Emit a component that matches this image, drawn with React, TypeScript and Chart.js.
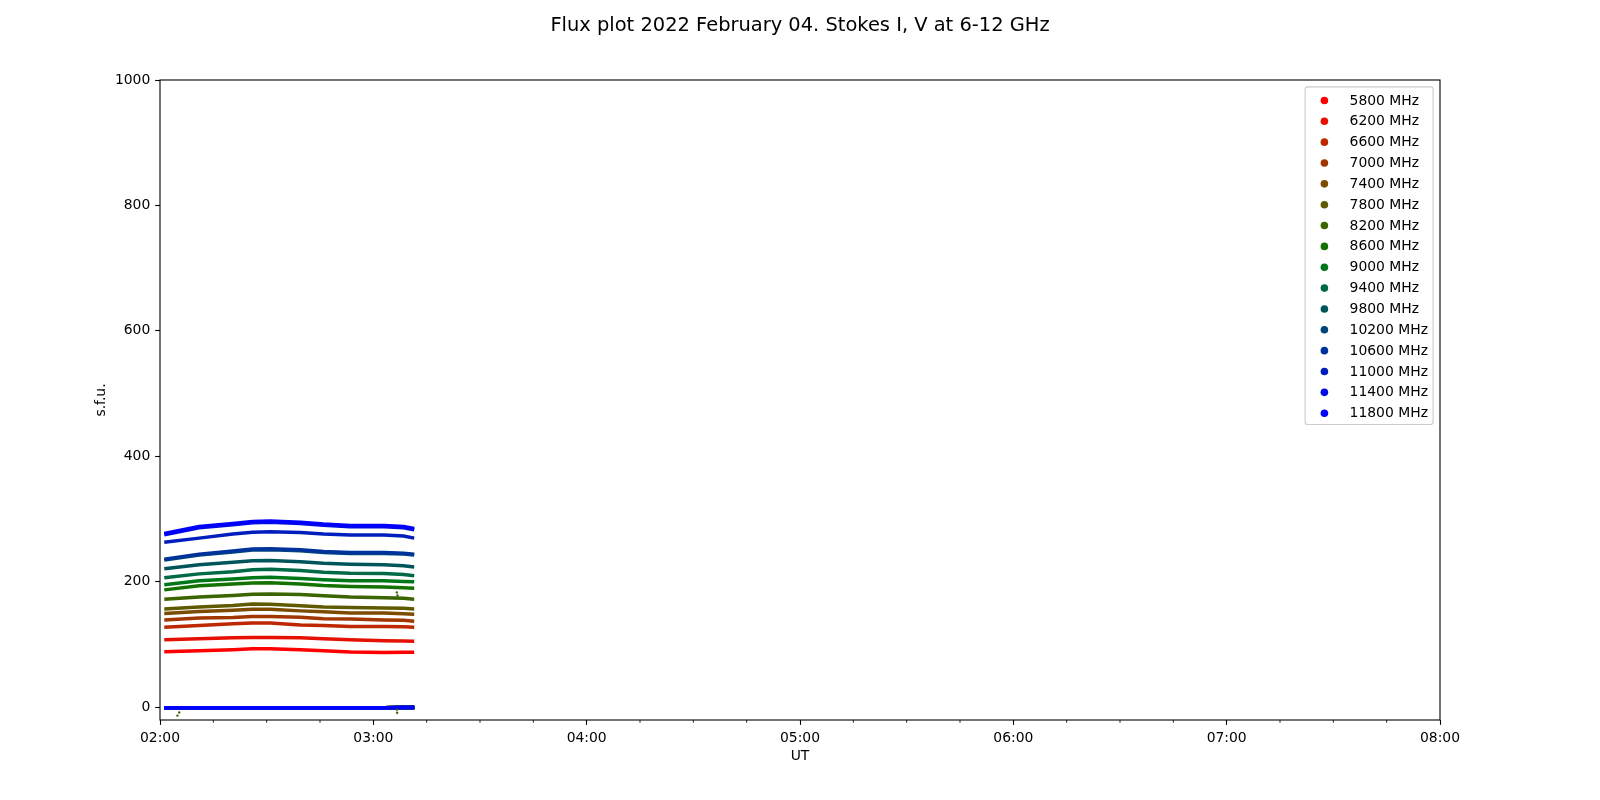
import { useEffect, useRef } from 'react';
import { Chart, registerables } from 'chart.js';

Chart.register(...registerables);

const FONT = "'DejaVu Sans', sans-serif";

const titleText = 'Flux plot 2022 February 04. Stokes I, V at 6-12 GHz';
const yAxisTitle = 's.f.u.';
const xAxisTitle = 'UT';

// x ticks (minutes of the day)
const xTickMinutes = [120, 180, 240, 300, 360, 420, 480];
const xTickLabels = ['02:00', '03:00', '04:00', '05:00', '06:00', '07:00', '08:00'];
const yTickValues = [0, 200, 400, 600, 800, 1000];

const frequencyLabels = [
  '5800 MHz', '6200 MHz', '6600 MHz', '7000 MHz', '7400 MHz', '7800 MHz', '8200 MHz', '8600 MHz',
  '9000 MHz', '9400 MHz', '9800 MHz', '10200 MHz', '10600 MHz', '11000 MHz', '11400 MHz', '11800 MHz',
];

const seriesColors = [
  '#ff0000', '#e61000', '#be2800', '#a03700', '#7d4b00', '#5f5a00', '#3c6400', '#147300',
  '#007819', '#006946', '#00555a', '#00467d', '#00329b', '#001ebe', '#000ce1', '#0000ff',
];

// sample times (minutes of the day, UT)
const timeMinutes = [121.2, 131, 140.5, 146, 151, 159.5, 166, 173.5, 183, 188.5, 191.5];

// Stokes I flux (s.f.u.)
const flux5800 = [88.5, 90, 91.5, 93, 93, 91.5, 90, 88, 87, 87.5, 87.5];
const flux6200 = [107.5, 109, 110.5, 111, 111, 110.5, 109, 107.5, 106, 105.5, 105];
const flux6600 = [127.5, 130, 133, 134, 134, 131, 130, 128.5, 128.5, 128, 127.5];
const flux7000 = [139, 142, 143, 144.5, 144.5, 143.5, 141, 140.5, 139, 138.5, 137];
const flux7400 = [149.5, 152.5, 154.5, 156, 156, 153.5, 152, 150, 150, 149, 148];
const flux7800 = [156.5, 159.5, 162, 164.5, 164, 161.5, 159.5, 159, 158, 157.5, 156.5];
const flux8200 = [172, 175.5, 178, 180, 180.5, 179.5, 177.5, 175.5, 174.5, 173.5, 172];
const flux8600 = [187, 193.5, 196.5, 198, 198.5, 196.5, 194, 192.5, 191.5, 190.5, 189.5];
const flux9000 = [195, 201.5, 204.5, 206.5, 207, 205, 203, 201.5, 201.5, 200.5, 200];
const flux9400 = [206.5, 212.5, 216, 219, 220, 218, 215, 213.5, 213, 211.5, 209.5];
const flux9800 = [220.5, 227, 231, 233.5, 234, 232, 229.5, 228, 227, 225.5, 223.5];
const flux10200 = [234.5, 242.5, 247.5, 250.5, 251, 249.5, 246.5, 245, 245, 244, 242.5];
const flux10600 = [236, 244, 249, 252, 252.5, 251, 248, 246.5, 246.5, 245.5, 244];
const flux11000 = [263, 269.5, 276, 279, 279.5, 278.5, 276, 274.5, 274.5, 273, 269.5];
const flux11400 = [275, 286, 291, 294, 295, 293, 290, 287.5, 287.5, 286, 283];
const flux11800 = [277, 288, 293, 296, 297, 295, 292, 289.5, 289.5, 288, 285];

// Stokes V (s.f.u.), all channels lie on top of each other near zero
const stokesVCommon = [-1, -1, -1, -1, -1, -1, -1, -1, -1, -0.5, -0.5];

// stray samples (8200 MHz channel)
const strayMinutes = [124.9, 125.4, 186.6, 186.7, 186.8, 186.6];
const strayValues = [-13.5, -8.5, -4, -9, 178, 183];

const fluxSeries = [
  flux5800, flux6200, flux6600, flux7000, flux7400, flux7800, flux8200, flux8600,
  flux9000, flux9400, flux9800, flux10200, flux10600, flux11000, flux11400, flux11800,
];

const decorPlugin = {
  id: 'decor',
  afterDraw(chart: any) {
    const ctx = chart.ctx as CanvasRenderingContext2D;
    const { left, right, top, bottom } = chart.chartArea;
    const xs = chart.scales.x;
    ctx.save();
    // frame
    ctx.strokeStyle = '#000';
    ctx.lineWidth = 1.1;
    ctx.strokeRect(left, top, right - left, bottom - top);
    // minor ticks every 15 minutes
    ctx.lineWidth = 0.85;
    for (let m = 135; m < 480; m += 15) {
      if (m % 60 === 0) continue;
      const px = xs.getPixelForValue(m);
      ctx.beginPath();
      ctx.moveTo(px, bottom);
      ctx.lineTo(px, bottom + 2.8);
      ctx.stroke();
    }
    // title
    ctx.fillStyle = '#000';
    ctx.font = `19.44px ${FONT}`;
    ctx.textAlign = 'center';
    ctx.textBaseline = 'alphabetic';
    ctx.fillText(titleText, 800, 30.5);
    // legend
    const lx = 1305.1, ly = 86.9, lw = 128, lh = 337.6;
    ctx.beginPath();
    (ctx as any).roundRect(lx, ly, lw, lh, 2.8);
    ctx.fillStyle = 'rgba(255,255,255,0.8)';
    ctx.fill();
    ctx.strokeStyle = '#cccccc';
    ctx.lineWidth = 1.1;
    ctx.stroke();
    ctx.font = `13.9px ${FONT}`;
    ctx.textAlign = 'left';
    frequencyLabels.forEach((label, i) => {
      const cy = 99.45 + i * 20.85;
      ctx.beginPath();
      ctx.arc(1324.4, cy + 1, 3.8, 0, Math.PI * 2);
      ctx.fillStyle = seriesColors[i];
      ctx.fill();
      ctx.fillStyle = '#000';
      ctx.fillText(label, 1349.6, cy + 5.07);
    });
    ctx.restore();
  },
};

export default function App() {
  const canvasRef = useRef<HTMLCanvasElement | null>(null);

  useEffect(() => {
    const canvas = canvasRef.current;
    if (!canvas) return;
    const datasets: any[] = [];
    frequencyLabels.forEach((label, i) => {
      datasets.push({
        label,
        data: timeMinutes.map((t, k) => ({ x: t, y: fluxSeries[i][k] })),
        borderColor: seriesColors[i],
        backgroundColor: seriesColors[i],
        borderWidth: 3.5,
        pointRadius: 0,
        showLine: true,
        order: 200 - 2 * i,
      });
      datasets.push({
        label: label + ' V',
        data: timeMinutes.map((t, k) => ({ x: t, y: stokesVCommon[k] })),
        borderColor: seriesColors[i],
        backgroundColor: seriesColors[i],
        borderWidth: 3.6,
        pointRadius: 0,
        showLine: true,
        order: 199 - 2 * i,
      });
    });
    datasets.push({
      label: 'stray',
      data: strayMinutes.map((t, k) => ({ x: t, y: strayValues[k] })),
      borderColor: seriesColors[6],
      backgroundColor: seriesColors[6],
      pointRadius: 1.2,
      pointBorderWidth: 0,
      showLine: false,
      order: 0,
    });

    const tickFont = { family: FONT, size: 13.9 };
    const chart = new Chart(canvas, {
      type: 'scatter',
      data: { datasets },
      plugins: [decorPlugin],
      options: {
        animation: false,
        responsive: false,
        devicePixelRatio: 1,
        layout: { padding: { left: 0, right: 160, top: 80, bottom: 0 } },
        plugins: {
          legend: { display: false },
          tooltip: { enabled: false },
          title: { display: false },
        },
        scales: {
          x: {
            type: 'linear',
            min: 120,
            max: 480,
            afterFit: (s: any) => { s.height = 80; },
            afterBuildTicks: (s: any) => { s.ticks = xTickMinutes.map((v) => ({ value: v })); },
            ticks: {
              autoSkip: false,
              maxRotation: 0,
              padding: 5.5,
              color: '#000',
              font: tickFont,
              callback: (_v: any, idx: number) => xTickLabels[idx],
            },
            grid: {
              display: true,
              drawOnChartArea: false,
              drawTicks: true,
              tickLength: 4.86,
              tickWidth: 1.1,
              tickColor: '#000',
            },
            border: { display: false },
            title: {
              display: true,
              text: xAxisTitle,
              color: '#000',
              font: { family: FONT, size: 13.9 },
              padding: { top: 0, bottom: 35.5 },
            },
          },
          y: {
            type: 'linear',
            min: -20.5,
            max: 1000,
            afterFit: (s: any) => { s.width = 160; },
            afterBuildTicks: (s: any) => { s.ticks = yTickValues.map((v) => ({ value: v })); },
            ticks: {
              autoSkip: false,
              padding: 4.86,
              color: '#000',
              font: tickFont,
              callback: (v: any) => String(v),
            },
            grid: {
              display: true,
              drawOnChartArea: false,
              drawTicks: true,
              tickLength: 4.86,
              tickWidth: 1.1,
              tickColor: '#000',
            },
            border: { display: false },
            title: {
              display: true,
              text: yAxisTitle,
              color: '#000',
              font: { family: FONT, size: 13.9 },
              padding: { top: 93.5, bottom: 0 },
            },
          },
        },
      },
    });
    return () => chart.destroy();
  }, []);

  return (
    <div style={{ position: 'absolute', left: 0, top: 0, width: 1600, height: 800, background: '#fff' }}>
      <canvas ref={canvasRef} width={1600} height={800} style={{ display: 'block' }} />
    </div>
  );
}
